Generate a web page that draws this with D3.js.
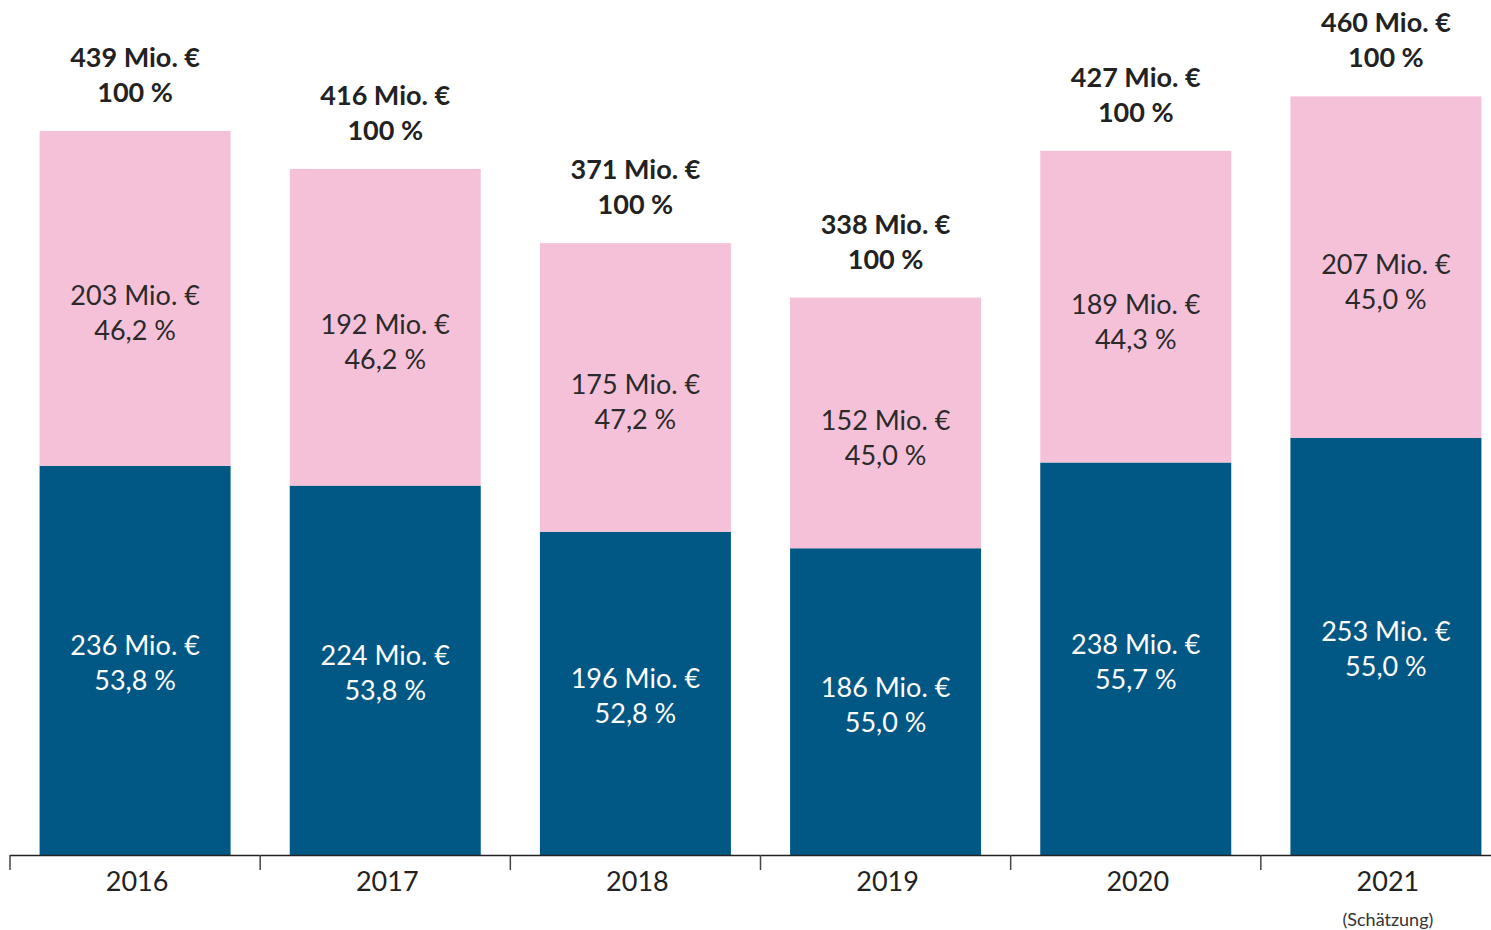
<!DOCTYPE html>
<html lang="de">
    <head>
        <meta charset="utf-8">
        <title>Mio. € nach Jahr</title>
        <script type="text/javascript" src="https://cdn.jsdelivr.net/npm/d3@7"></script>
        <style>
            body { margin: 0; background: #fff; }
            text { font-family: Lato, "Open Sans", sans-serif; }
        </style>
    </head>
    <body>
        <script type="text/javascript">
            // data
            var years = ["2016", "2017", "2018", "2019", "2020", "2021"];
            var blueValues = [236, 224, 196, 186, 238, 253];
            var pinkValues = [203, 192, 175, 152, 189, 207];
            var totals = [439, 416, 371, 338, 427, 460];
            var bluePct = ["53,8 %", "53,8 %", "52,8 %", "55,0 %", "55,7 %", "55,0 %"];
            var pinkPct = ["46,2 %", "46,2 %", "47,2 %", "45,0 %", "44,3 %", "45,0 %"];
            var yearNotes = ["", "", "", "", "", "(Schätzung)"];

            var svgWidth = 1491;
            var svgHeight = 930;
            var baseY = 855;
            var barWidth = 191;

            var svg = d3.select("body")
                        .append("svg")
                        .attr("width", svgWidth)
                        .attr("height", svgHeight);

            var data = years.map(function(y, i) {
                return {
                    year: y,
                    blue: blueValues[i],
                    pink: pinkValues[i],
                    total: totals[i],
                    bluePct: bluePct[i],
                    pinkPct: pinkPct[i],
                    note: yearNotes[i]
                };
            });

            var xScale = d3.scaleBand()
                           .domain(years)
                           .range([10, 1511]);

            var yScale = d3.scaleLinear()
                           .domain([0, 439])
                           .range([baseY, 131]);

            function barX(d) {
                return xScale(d.year) + (xScale.bandwidth() - barWidth) / 2;
            }
            function centerX(d) {
                return xScale(d.year) + xScale.bandwidth() / 2;
            }

            var bars = svg.selectAll("g.bar")
                          .data(data)
                          .enter()
                          .append("g")
                          .attr("class", "bar");

            // blue part
            bars.append("rect")
                .attr("x", barX)
                .attr("y", function(d) { return yScale(d.blue); })
                .attr("width", barWidth)
                .attr("height", function(d) { return baseY - yScale(d.blue); })
                .attr("fill", "#025884");

            // pink part
            bars.append("rect")
                .attr("x", barX)
                .attr("y", function(d) { return yScale(d.blue + d.pink); })
                .attr("width", barWidth)
                .attr("height", function(d) { return yScale(d.blue) - yScale(d.blue + d.pink); })
                .attr("fill", "#f5c1d9");

            // labels inside segments (nudge = shift from segment middle)
            function segLabel(sel, lo, hi, value, pct, color, nudge) {
                sel.each(function(d) {
                    var mid = (yScale(lo(d)) + yScale(hi(d))) / 2 + nudge;
                    var t = d3.select(this).append("text")
                              .attr("text-anchor", "middle")
                              .attr("font-size", "27px")
                              .attr("fill", color);
                    t.append("tspan")
                     .attr("x", centerX(d))
                     .attr("y", mid - 8)
                     .text(value(d) + " Mio. €");
                    t.append("tspan")
                     .attr("x", centerX(d))
                     .attr("y", mid + 27)
                     .text(pct(d));
                });
            }

            segLabel(bars,
                     function(d) { return 0; },
                     function(d) { return d.blue; },
                     function(d) { return d.blue; },
                     function(d) { return d.bluePct; },
                     "#ffffff", 3);

            segLabel(bars,
                     function(d) { return d.blue; },
                     function(d) { return d.blue + d.pink; },
                     function(d) { return d.pink; },
                     function(d) { return d.pinkPct; },
                     "#2a2a2a", 15);

            // totals above bars
            var tot = bars.append("text")
                          .attr("text-anchor", "middle")
                          .attr("font-size", "27px")
                          .attr("font-weight", "bold")
                          .attr("fill", "#222");
            tot.append("tspan")
               .attr("x", centerX)
               .attr("y", function(d) { return yScale(d.total) - 64; })
               .text(function(d) { return d.total + " Mio. €"; });
            tot.append("tspan")
               .attr("x", centerX)
               .attr("y", function(d) { return yScale(d.total) - 29; })
               .text("100 %");

            // x axis: line with ticks at band edges
            var axis = svg.append("g").attr("class", "axis");
            axis.append("line")
                .attr("x1", 10)
                .attr("x2", svgWidth)
                .attr("y1", baseY + 0.5)
                .attr("y2", baseY + 0.5)
                .attr("stroke", "#222")
                .attr("stroke-width", 1.5);
            axis.selectAll("line.tick")
                .data(years)
                .enter()
                .append("line")
                .attr("class", "tick")
                .attr("x1", function(d) { return xScale(d); })
                .attr("x2", function(d) { return xScale(d); })
                .attr("y1", baseY)
                .attr("y2", baseY + 15)
                .attr("stroke", "#444")
                .attr("stroke-width", 1.5);

            axis.selectAll("text.year")
                .data(data)
                .enter()
                .append("text")
                .attr("class", "year")
                .attr("x", function(d) { return centerX(d) + 2; })
                .attr("y", 891)
                .attr("text-anchor", "middle")
                .attr("font-size", "27px")
                .attr("fill", "#222")
                .text(function(d) { return d.year; });

            axis.selectAll("text.note")
                .data(data)
                .enter()
                .append("text")
                .attr("class", "note")
                .attr("x", function(d) { return centerX(d) + 2; })
                .attr("y", 926)
                .attr("text-anchor", "middle")
                .attr("font-size", "18px")
                .attr("fill", "#333")
                .text(function(d) { return d.note; });
        </script>
    </body>
</html>
